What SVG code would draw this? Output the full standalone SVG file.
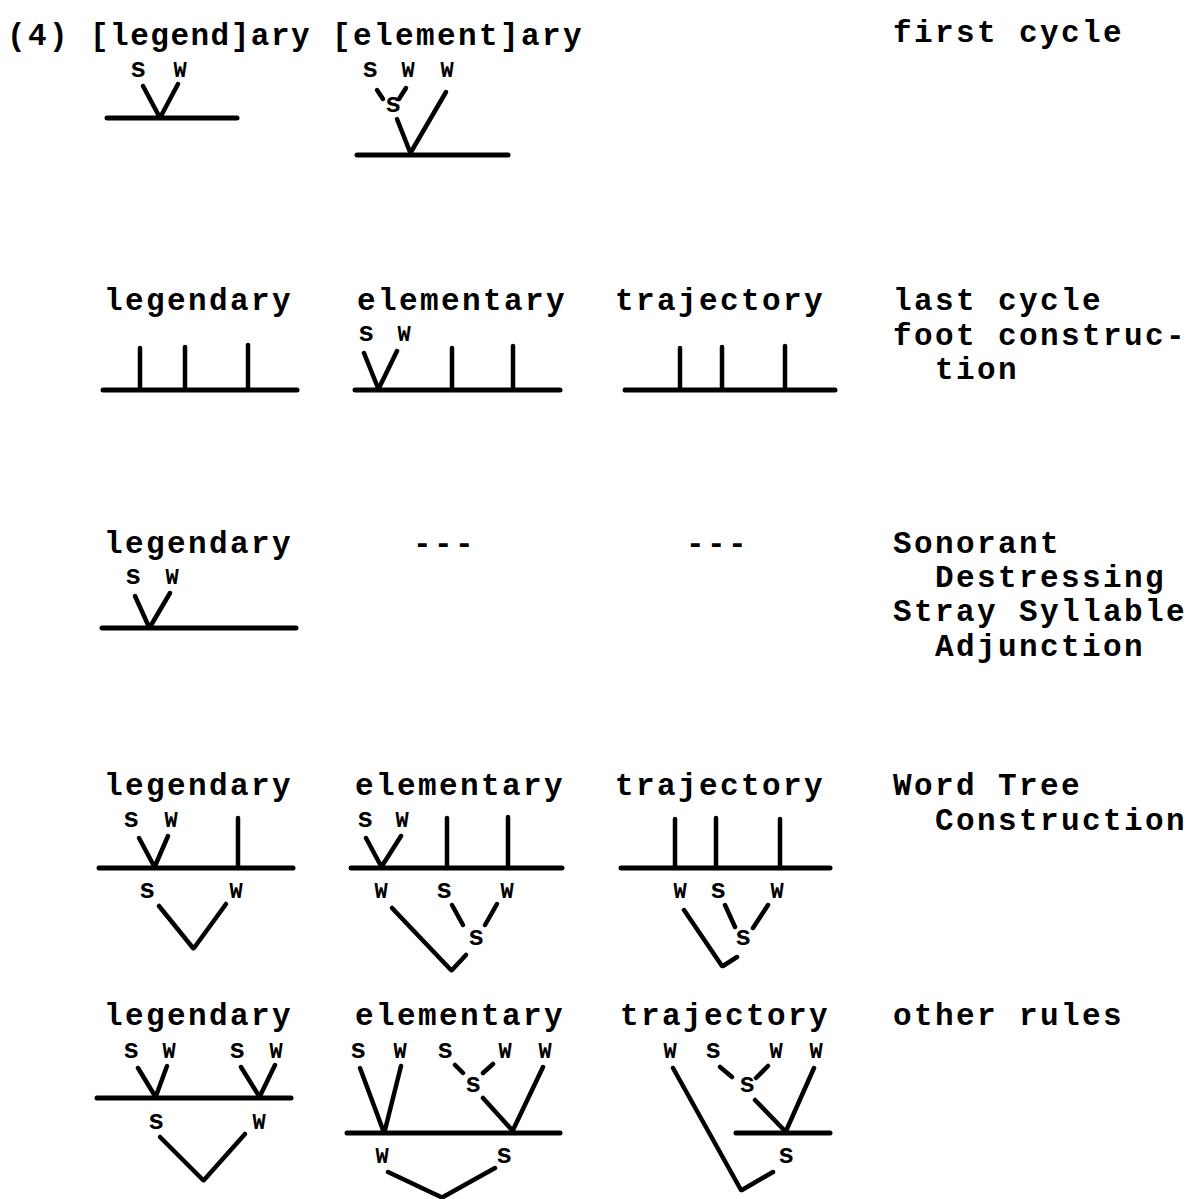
<svg xmlns="http://www.w3.org/2000/svg" width="1188" height="1199" viewBox="0 0 1188 1199">
<style>
.t{font-family:"Liberation Mono","DejaVu Sans Mono",monospace;font-size:31px;letter-spacing:2.4px;font-weight:bold;fill:#000}
.s{font-family:"Liberation Mono","DejaVu Sans Mono",monospace;font-size:27px;font-weight:bold;fill:#000;text-anchor:middle}
.w{font-family:"Liberation Mono","DejaVu Sans Mono",monospace;font-size:22px;font-weight:bold;fill:#000;text-anchor:middle}
.ln{stroke:#000;stroke-width:4.5;stroke-linecap:round;fill:none}
.hz{stroke:#000;stroke-width:5;stroke-linecap:round;fill:none}
</style>
<rect width="1188" height="1199" fill="#fff"/>

<g id="row1">
  <text class="t" x="7" y="45">(4)</text>
  <text class="t" x="90" y="45" textLength="222" lengthAdjust="spacing">[legend]ary</text>
  <text class="t" x="332" y="45" textLength="252" lengthAdjust="spacing">[element]ary</text>
  <text class="t" x="893" y="42">first cycle</text>
</g>
<g id="r1-legendary">
  <text class="s" x="138" y="77">s</text><text class="w" x="180" y="77">W</text>
</g>
<g id="r1-elementary">
  <text class="s" x="370" y="77">s</text><text class="w" x="408" y="77">W</text><text class="w" x="447" y="77">W</text>
  <text class="s" x="393" y="112">s</text>
</g>

<g id="row2">
  <text class="t" x="104" y="310">legendary</text>
  <text class="t" x="357" y="310">elementary</text>
  <text class="t" x="615" y="310">trajectory</text>
  <text class="t" x="893" y="310">last cycle</text>
  <text class="t" x="893" y="345">foot construc-</text>
  <text class="t" x="935" y="379">tion</text>
</g>
<g id="r2-elementary">
  <text class="s" x="366" y="341">s</text><text class="w" x="404" y="341">W</text>
</g>

<g id="row3">
  <text class="t" x="104" y="553">legendary</text>
  <text class="t" x="413" y="553">---</text>
  <text class="t" x="686" y="553">---</text>
  <text class="t" x="893" y="553">Sonorant</text>
  <text class="t" x="935" y="587">Destressing</text>
  <text class="t" x="893" y="621">Stray Syllable</text>
  <text class="t" x="935" y="656">Adjunction</text>
</g>
<g id="r3-legendary">
  <text class="s" x="133" y="584">s</text><text class="w" x="172" y="584">W</text>
</g>

<g id="row4">
  <text class="t" x="104" y="795">legendary</text>
  <text class="t" x="355" y="795">elementary</text>
  <text class="t" x="615" y="795">trajectory</text>
  <text class="t" x="893" y="795">Word Tree</text>
  <text class="t" x="935" y="830">Construction</text>
</g>
<g id="r4-legendary">
  <text class="s" x="131" y="827">s</text><text class="w" x="171" y="827">W</text>
  <text class="s" x="147" y="898">s</text><text class="w" x="236" y="898">W</text>
</g>
<g id="r4-elementary">
  <text class="s" x="365" y="827">s</text><text class="w" x="402" y="827">W</text>
  <text class="w" x="381" y="898">W</text><text class="s" x="444" y="898">s</text><text class="w" x="507" y="898">W</text>
  <text class="s" x="476" y="945">s</text>
</g>
<g id="r4-trajectory">
  <text class="w" x="680" y="898">W</text><text class="s" x="718" y="898">s</text><text class="w" x="777" y="898">W</text>
  <text class="s" x="743" y="945">s</text>
</g>

<g id="row5">
  <text class="t" x="104" y="1025">legendary</text>
  <text class="t" x="355" y="1025">elementary</text>
  <text class="t" x="620" y="1025">trajectory</text>
  <text class="t" x="893" y="1025">other rules</text>
</g>
<g id="r5-legendary">
  <text class="s" x="131" y="1058">s</text><text class="w" x="169" y="1058">W</text>
  <text class="s" x="237" y="1058">s</text><text class="w" x="276" y="1058">W</text>
  <text class="s" x="156" y="1129">s</text><text class="w" x="259" y="1129">W</text>
</g>
<g id="r5-elementary">
  <text class="s" x="358" y="1058">s</text><text class="w" x="400" y="1058">W</text><text class="s" x="445" y="1058">s</text><text class="w" x="505" y="1058">W</text><text class="w" x="545" y="1058">W</text>
  <text class="s" x="473" y="1092">s</text>
  <text class="w" x="382" y="1163">W</text><text class="s" x="504" y="1163">s</text>
</g>
<g id="r5-trajectory">
  <text class="w" x="670" y="1058">W</text><text class="s" x="713" y="1058">s</text><text class="w" x="776" y="1058">W</text><text class="w" x="816" y="1058">W</text>
  <text class="s" x="747" y="1092">s</text>
  <text class="s" x="786" y="1163">s</text>
</g>

<g id="connectors">
  <path class="ln" d="M143,86 L159,116 M178,84 L161,116"/>
  <path class="hz" d="M107,118 H237"/>
  <path class="ln" d="M377,90 L383,99 M406,88 L399,99"/>
  <path class="ln" d="M397,119 L410,152 M446,92 L411,152"/>
  <path class="hz" d="M357,155 H508"/>
  <path class="ln" d="M140,348 V390 M185,347 V390 M248,345 V390"/>
  <path class="hz" d="M103,390 H297"/>
  <path class="ln" d="M364,353 L378,388 M397,351 L379,388 M452,348 V390 M513,346 V390"/>
  <path class="hz" d="M355,390 H560"/>
  <path class="ln" d="M680,348 V390 M722,347 V390 M785,346 V390"/>
  <path class="hz" d="M625,390 H835"/>
  <path class="ln" d="M135,596 L149,627 M170,593 L150,627"/>
  <path class="hz" d="M102,628 H296"/>
  <path class="ln" d="M139,838 L154,866 M168,836 L155,866 M238,818 V868"/>
  <path class="hz" d="M99,868 H293"/>
  <path class="ln" d="M159,906 L193,948 M226,904 L194,948"/>
  <path class="ln" d="M366,838 L381,866 M401,836 L382,866 M447,818 V868 M508,817 V868"/>
  <path class="hz" d="M351,868 H562"/>
  <path class="ln" d="M392,908 L451,970 M452,905 L463,925 M497,904 L485,925 M466,955 L452,970"/>
  <path class="ln" d="M675,819 V868 M716,818 V868 M780,819 V868"/>
  <path class="hz" d="M621,868 H830"/>
  <path class="ln" d="M684,910 L722,966 M725,905 L735,927 M768,905 L753,928 M737,957 L723,966"/>
  <path class="ln" d="M138,1068 L155,1096 M167,1066 L156,1096 M241,1067 L259,1096 M275,1065 L260,1096"/>
  <path class="hz" d="M97,1098 H291"/>
  <path class="ln" d="M160,1137 L203,1180 M245,1134 L204,1180"/>
  <path class="ln" d="M360,1068 L383,1130 M401,1066 L385,1130 M455,1065 L463,1073 M493,1064 L483,1073 M483,1098 L512,1130 M543,1067 L513,1130"/>
  <path class="hz" d="M347,1133 H560"/>
  <path class="ln" d="M388,1172 L441,1197 M495,1168 L443,1197"/>
  <path class="ln" d="M673,1068 L741,1190 M720,1067 L732,1077 M768,1066 L756,1078 M755,1100 L785,1131 M814,1068 L786,1131 M773,1172 L742,1190"/>
  <path class="hz" d="M736,1133 H830"/>
</g>
</svg>
